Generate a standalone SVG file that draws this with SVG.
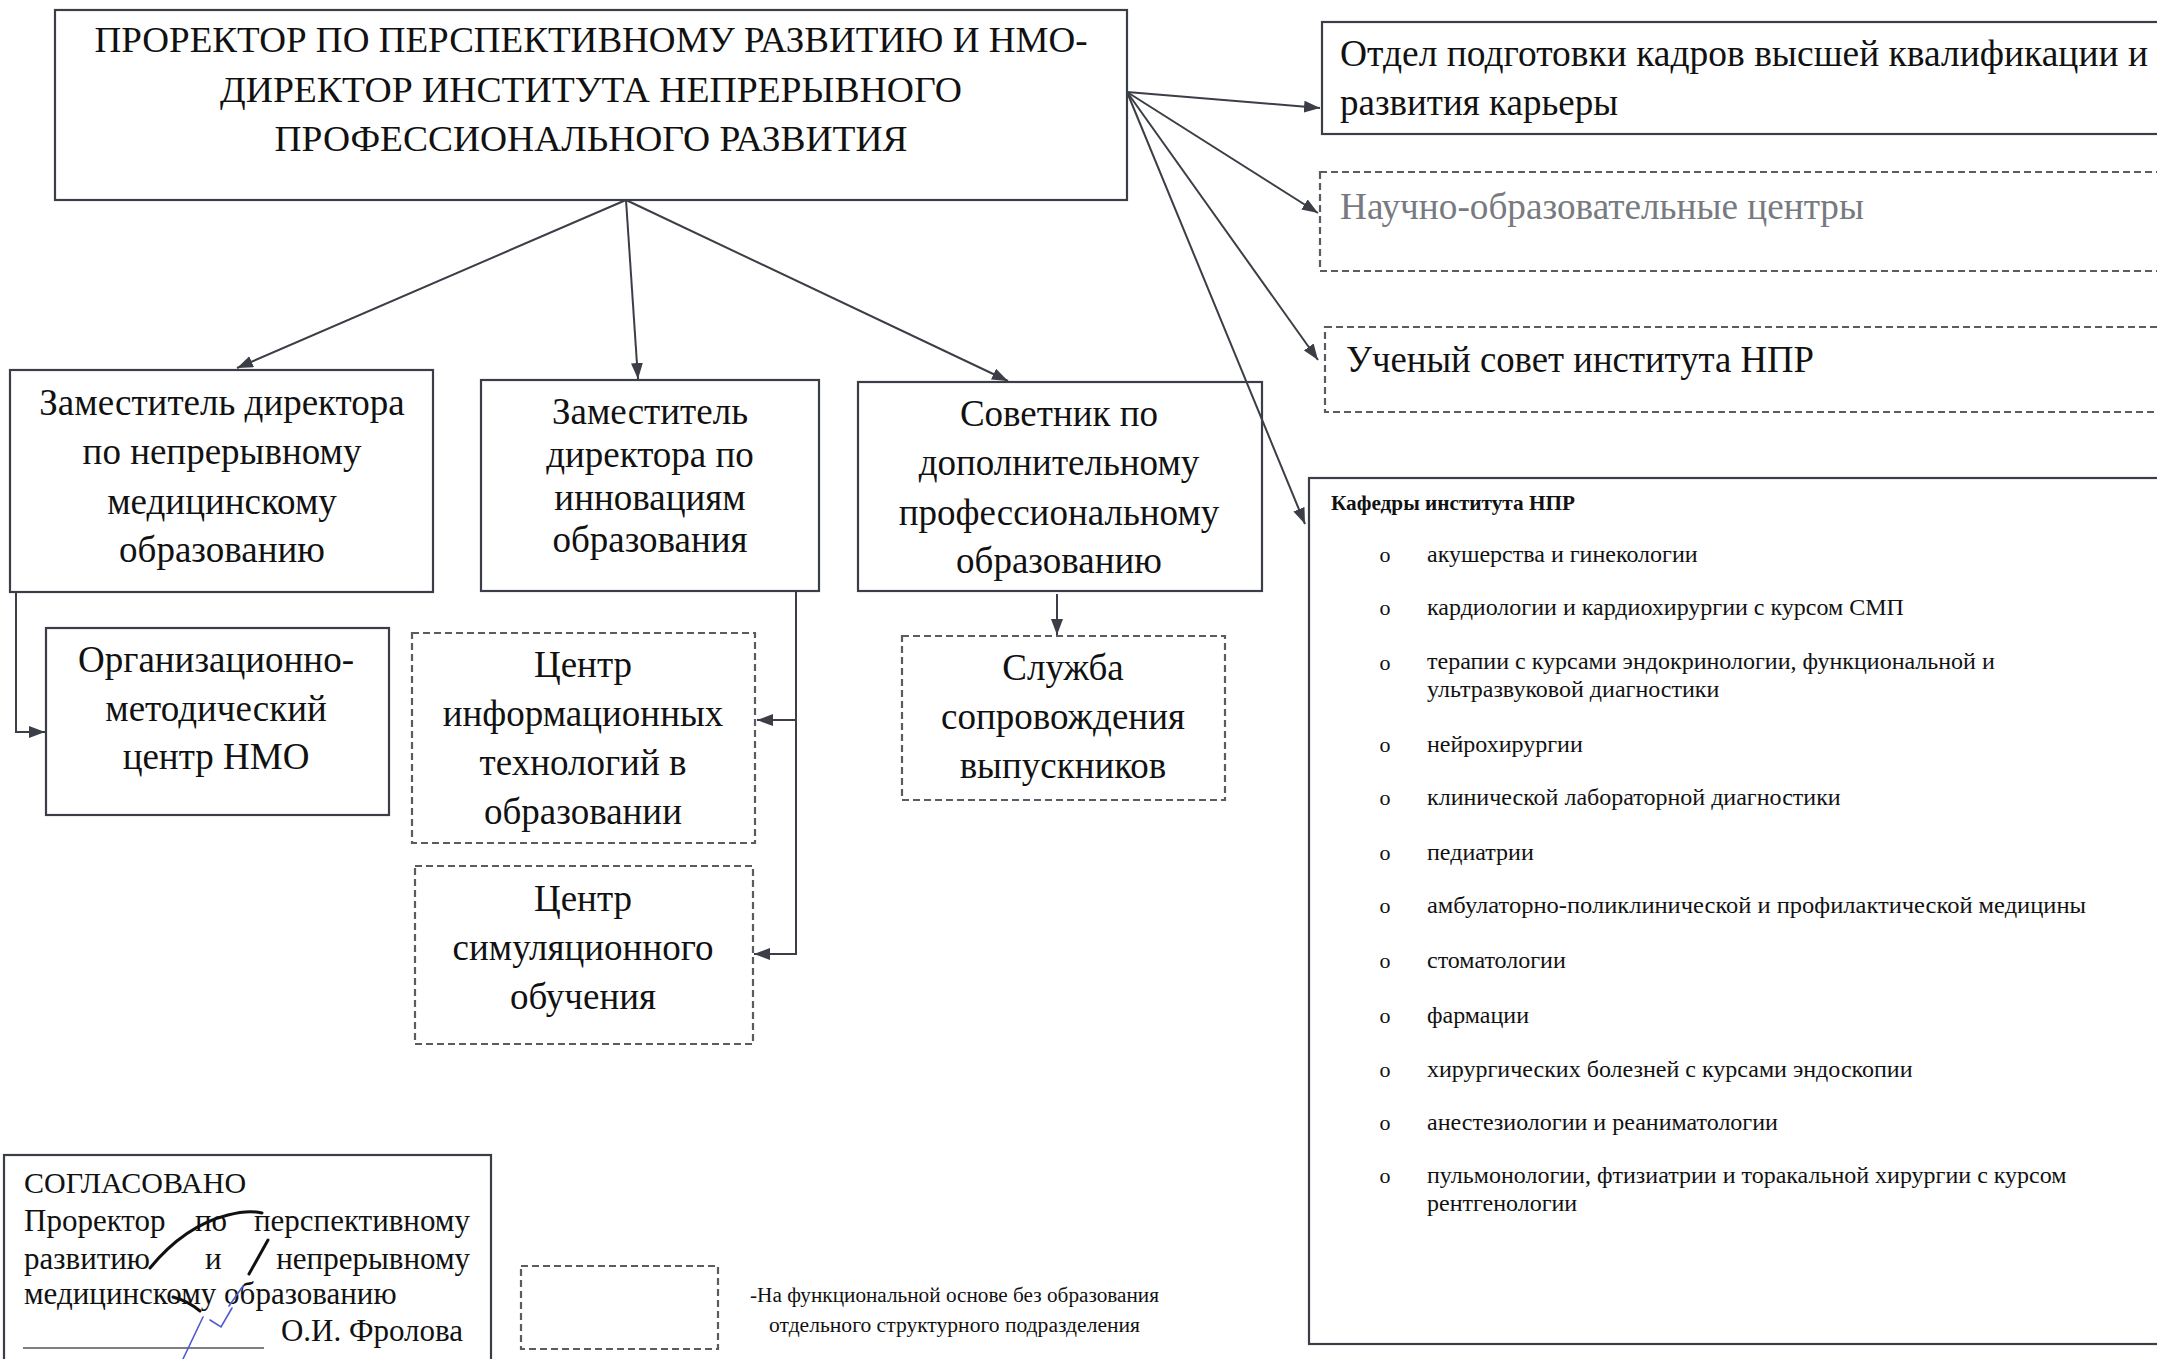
<svg xmlns="http://www.w3.org/2000/svg" width="2157" height="1359" viewBox="0 0 2157 1359">
<style>
  text { font-family: "Liberation Serif", "Times New Roman", serif; fill: #111; }
  .box { fill: none; stroke: #3b3e46; stroke-width: 2.2; }
  .dbox { fill: none; stroke: #5a5c62; stroke-width: 2.2; stroke-dasharray: 7 4; }
  .conn { fill: none; stroke: #3b3e46; stroke-width: 2; }
  .t36 { font-size: 37px; }
  .mid { text-anchor: middle; }
  .main { font-size: 35px; text-anchor: middle; }
  .item { font-size: 24px; }
  .bul { font-size: 22px; text-anchor: middle; }
  .sig { fill: none; stroke: #111; stroke-width: 3; stroke-linecap: round; }
  .sigb { fill: none; stroke: #4d5ad0; stroke-width: 1.6; stroke-linecap: round; }
</style>
<defs>
  <marker id="ah" viewBox="0 0 16 12" refX="16" refY="6" markerWidth="16" markerHeight="12" markerUnits="userSpaceOnUse" orient="auto">
    <path d="M0,0 L16,6 L0,12 Z" fill="#3b3e46"/>
  </marker>
</defs>
<rect width="2157" height="1359" fill="#ffffff"/>

<g id="connectors">
  <line class="conn" x1="626" y1="200" x2="237" y2="368" marker-end="url(#ah)"/>
  <line class="conn" x1="626" y1="200" x2="638" y2="379" marker-end="url(#ah)"/>
  <line class="conn" x1="626" y1="200" x2="1008" y2="381" marker-end="url(#ah)"/>
  <line class="conn" x1="1127" y1="92" x2="1320" y2="108" marker-end="url(#ah)"/>
  <line class="conn" x1="1127" y1="92" x2="1318" y2="213" marker-end="url(#ah)"/>
  <line class="conn" x1="1127" y1="92" x2="1318" y2="360" marker-end="url(#ah)"/>
  <line class="conn" x1="1127" y1="92" x2="1305" y2="524" marker-end="url(#ah)"/>
  <polyline class="conn" points="16,592 16,732 45,732" marker-end="url(#ah)"/>
  <polyline class="conn" points="796,591 796,954 754,954" marker-end="url(#ah)"/>
  <line class="conn" x1="796" y1="720" x2="757" y2="720" marker-end="url(#ah)"/>
  <line class="conn" x1="1057" y1="594" x2="1057" y2="635" marker-end="url(#ah)"/>
</g>

<g id="node-main">
  <rect class="box" x="55" y="10" width="1072" height="190"/>
  <text class="main" x="591" y="52" textLength="993" lengthAdjust="spacingAndGlyphs">ПРОРЕКТОР ПО ПЕРСПЕКТИВНОМУ РАЗВИТИЮ И НМО-</text>
  <text class="main" x="591" y="102" textLength="742" lengthAdjust="spacingAndGlyphs">ДИРЕКТОР ИНСТИТУТА НЕПРЕРЫВНОГО</text>
  <text class="main" x="591" y="151" textLength="633" lengthAdjust="spacingAndGlyphs">ПРОФЕССИОНАЛЬНОГО РАЗВИТИЯ</text>
</g>

<g id="node-otdel">
  <rect class="box" x="1322" y="22" width="900" height="112"/>
  <text class="t36" x="1340" y="66" textLength="808" lengthAdjust="spacingAndGlyphs">Отдел подготовки кадров высшей квалификации и</text>
  <text class="t36" x="1340" y="115">развития карьеры</text>
</g>

<g id="node-noc">
  <rect class="dbox" x="1320" y="172" width="900" height="99"/>
  <text class="t36" x="1340" y="219" style="fill:#777a80" textLength="524" lengthAdjust="spacingAndGlyphs">Научно-образовательные центры</text>
</g>

<g id="node-sovet">
  <rect class="dbox" x="1325" y="327" width="900" height="85"/>
  <text class="t36" x="1346" y="372" textLength="468" lengthAdjust="spacingAndGlyphs">Ученый совет института НПР</text>
</g>

<g id="node-kafedry">
  <rect class="box" x="1309" y="478" width="900" height="866"/>
  <text x="1331" y="510" style="font-size:21px;font-weight:bold" textLength="244" lengthAdjust="spacingAndGlyphs">Кафедры института НПР</text>
  <text class="bul" x="1385" y="562">o</text><text class="item" x="1427" y="562">акушерства  и гинекологии</text>
  <text class="bul" x="1385" y="615">o</text><text class="item" x="1427" y="615">кардиологии и кардиохирургии  с курсом СМП</text>
  <text class="bul" x="1385" y="670">o</text><text class="item" x="1427" y="669">терапии с  курсами эндокринологии, функциональной и</text>
  <text class="item" x="1427" y="697">ультразвуковой диагностики</text>
  <text class="bul" x="1385" y="752">o</text><text class="item" x="1427" y="752">нейрохирургии</text>
  <text class="bul" x="1385" y="805">o</text><text class="item" x="1427" y="805">клинической лабораторной диагностики</text>
  <text class="bul" x="1385" y="860">o</text><text class="item" x="1427" y="860">педиатрии</text>
  <text class="bul" x="1385" y="913">o</text><text class="item" x="1427" y="913" textLength="659" lengthAdjust="spacingAndGlyphs">амбулаторно-поликлинической  и профилактической  медицины</text>
  <text class="bul" x="1385" y="968">o</text><text class="item" x="1427" y="968">стоматологии</text>
  <text class="bul" x="1385" y="1023">o</text><text class="item" x="1427" y="1023">фармации</text>
  <text class="bul" x="1385" y="1077">o</text><text class="item" x="1427" y="1077">хирургических болезней с курсами эндоскопии</text>
  <text class="bul" x="1385" y="1130">o</text><text class="item" x="1427" y="1130">анестезиологии и реаниматологии</text>
  <text class="bul" x="1385" y="1183">o</text><text class="item" x="1427" y="1183">пульмонологии, фтизиатрии и торакальной хирургии с курсом</text>
  <text class="item" x="1427" y="1211">рентгенологии</text>
</g>

<g id="node-zam-nmo">
  <rect class="box" x="10" y="370" width="423" height="222"/>
  <text class="t36 mid" x="222" y="415">Заместитель директора</text>
  <text class="t36 mid" x="222" y="464">по непрерывному</text>
  <text class="t36 mid" x="222" y="514">медицинскому</text>
  <text class="t36 mid" x="222" y="562">образованию</text>
</g>

<g id="node-zam-innov">
  <rect class="box" x="481" y="380" width="338" height="211"/>
  <text class="t36 mid" x="650" y="424">Заместитель</text>
  <text class="t36 mid" x="650" y="467">директора по</text>
  <text class="t36 mid" x="650" y="510">инновациям</text>
  <text class="t36 mid" x="650" y="552">образования</text>
</g>

<g id="node-sovetnik">
  <rect class="box" x="858" y="382" width="404" height="209"/>
  <text class="t36 mid" x="1059" y="426">Советник по</text>
  <text class="t36 mid" x="1059" y="475">дополнительному</text>
  <text class="t36 mid" x="1059" y="525">профессиональному</text>
  <text class="t36 mid" x="1059" y="573">образованию</text>
</g>

<g id="node-omc">
  <rect class="box" x="46" y="628" width="343" height="187"/>
  <text class="t36 mid" x="216" y="672">Организационно-</text>
  <text class="t36 mid" x="216" y="721">методический</text>
  <text class="t36 mid" x="216" y="769">центр НМО</text>
</g>

<g id="node-cit">
  <rect class="dbox" x="412" y="633" width="343" height="210"/>
  <text class="t36 mid" x="583" y="677">Центр</text>
  <text class="t36 mid" x="583" y="726">информационных</text>
  <text class="t36 mid" x="583" y="775">технологий в</text>
  <text class="t36 mid" x="583" y="824">образовании</text>
</g>

<g id="node-csim">
  <rect class="dbox" x="415" y="866" width="338" height="178"/>
  <text class="t36 mid" x="583" y="911">Центр</text>
  <text class="t36 mid" x="583" y="960">симуляционного</text>
  <text class="t36 mid" x="583" y="1009">обучения</text>
</g>

<g id="node-sluzhba">
  <rect class="dbox" x="902" y="636" width="323" height="164"/>
  <text class="t36 mid" x="1063" y="680">Служба</text>
  <text class="t36 mid" x="1063" y="729">сопровождения</text>
  <text class="t36 mid" x="1063" y="778">выпускников</text>
</g>

<g id="approval">
  <rect class="box" x="4" y="1155" width="487" height="215"/>
  <text x="24" y="1193" style="font-size:30px">СОГЛАСОВАНО</text>
  <text x="24" y="1231" style="font-size:31px">Проректор</text>
  <text x="195" y="1231" style="font-size:31px">по</text>
  <text x="470" y="1231" style="font-size:31px;text-anchor:end">перспективному</text>
  <text x="24" y="1269" style="font-size:31px">развитию</text>
  <text x="205" y="1269" style="font-size:31px">и</text>
  <text x="470" y="1269" style="font-size:31px;text-anchor:end">непрерывному</text>
  <text x="24" y="1304" style="font-size:31px">медицинскому образованию</text>
  <line x1="23" y1="1348" x2="264" y2="1348" stroke="#555" stroke-width="1.5"/>
  <text x="463" y="1341" style="font-size:31px;text-anchor:end">О.И. Фролова</text>
  <path class="sig" d="M150,1268 C168,1246 192,1224 228,1215 C243,1211 254,1211 262,1213"/>
  <path class="sig" d="M268,1240 L249,1274"/>
  <path class="sig" d="M173,1297 Q188,1301 200,1311"/>
  <path class="sigb" d="M183,1359 L203,1317"/>
  <path class="sigb" d="M210,1320 L221,1327 L232,1308"/>
  <path class="sigb" d="M229,1306 L243,1286"/>
</g>

<g id="legend">
  <rect class="dbox" x="521" y="1266" width="197" height="83"/>
  <text x="750" y="1302" style="font-size:20px" textLength="409" lengthAdjust="spacingAndGlyphs">-На функциональной основе без образования</text>
  <text x="769" y="1332" style="font-size:20px" textLength="371" lengthAdjust="spacingAndGlyphs">отдельного структурного подразделения</text>
</g>
</svg>
